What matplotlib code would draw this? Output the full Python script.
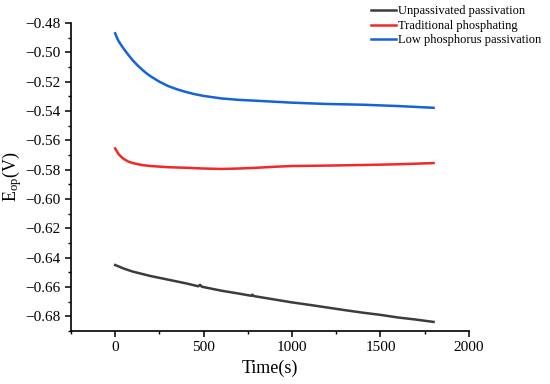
import matplotlib
matplotlib.use("Agg")
import matplotlib.pyplot as plt
from matplotlib.ticker import MultipleLocator, FuncFormatter

plt.rcParams['font.family'] = ['Liberation Serif', 'DejaVu Serif']
plt.rcParams['mathtext.fontset'] = 'custom'
plt.rcParams['mathtext.rm'] = 'Liberation Serif'
plt.rcParams['mathtext.it'] = 'Liberation Serif:italic'

# Data
t_black = [0, 50, 100, 150, 200, 300, 400, 470, 480, 490, 600, 700, 770, 775, 785, 900, 1000, 1100, 1200, 1300, 1400, 1500, 1600, 1700, 1800]
e_black = [-0.645, -0.6475, -0.6495, -0.651, -0.6525, -0.655, -0.6575, -0.6595, -0.6585, -0.6598, -0.6625, -0.6645, -0.666, -0.6652, -0.6662, -0.6685, -0.6705, -0.6722, -0.674, -0.6758, -0.6775, -0.679, -0.6808, -0.6822, -0.6838]

t_red = [0, 10, 20, 35, 50, 75, 100, 150, 200, 300, 400, 500, 600, 700, 800, 900, 1000, 1200, 1400, 1600, 1800]
e_red = [-0.5655, -0.5675, -0.5695, -0.5713, -0.5728, -0.5745, -0.5755, -0.5768, -0.5775, -0.5783, -0.5787, -0.5792, -0.5795, -0.5792, -0.5787, -0.578, -0.5775, -0.5772, -0.5768, -0.5763, -0.5755]

t_blue = [0, 10, 20, 35, 50, 75, 100, 125, 150, 175, 200, 250, 300, 350, 400, 450, 500, 600, 700, 800, 1000, 1200, 1400, 1600, 1800]
e_blue = [-0.487, -0.4900, -0.4925, -0.4952, -0.4978, -0.5018, -0.5055, -0.5087, -0.5115, -0.5141, -0.5163, -0.5200, -0.5230, -0.5252, -0.5270, -0.5285, -0.5297, -0.5314, -0.5324, -0.5330, -0.5343, -0.5352, -0.5357, -0.5366, -0.5378]

labels = ['Unpassivated passivation', 'Traditional phosphating', 'Low phosphorus passivation']
colors = ['#3c3c3c', '#f02828', '#1462dc']

fig = plt.figure(figsize=(5.5, 3.84), dpi=100)
ax = fig.add_axes([0.129, 0.138, 0.7236, 0.802])

for t, e, lab, c in zip([t_black, t_red, t_blue], [e_black, e_red, e_blue], labels, colors):
    ax.plot(t, e, color=c, lw=1.8, label=lab)

ax.set_xlim(-250, 2000)
ax.set_ylim(-0.69, -0.48)
ax.xaxis.set_major_locator(MultipleLocator(500))
ax.xaxis.set_minor_locator(MultipleLocator(250))
ax.yaxis.set_major_locator(MultipleLocator(0.02))
ax.yaxis.set_minor_locator(MultipleLocator(0.01))
ax.yaxis.set_major_formatter(FuncFormatter(lambda v, p: ('\u2212' if v < 0 else '') + '%.2f' % abs(v)))

for s in ['top', 'right']:
    ax.spines[s].set_visible(False)
for s in ['left', 'bottom']:
    ax.spines[s].set_linewidth(1.2)
ax.tick_params(which='major', direction='out', length=4, width=1.1, labelsize=11)
ax.tick_params(which='minor', direction='out', length=2.5, width=1.0)

ax.set_xlabel('Time(s)', fontsize=13)
ax.set_ylabel(r'E$_{\mathrm{op}}$(V)', fontsize=13)
ax.yaxis.set_label_coords(-0.118, 0.5)

fig.legend(loc='upper right', bbox_to_anchor=(1.005, 1.015), frameon=False, fontsize=9,
           handlelength=2.0, labelspacing=0.2, handletextpad=0.2)

fig.savefig('out.png', dpi=100)
